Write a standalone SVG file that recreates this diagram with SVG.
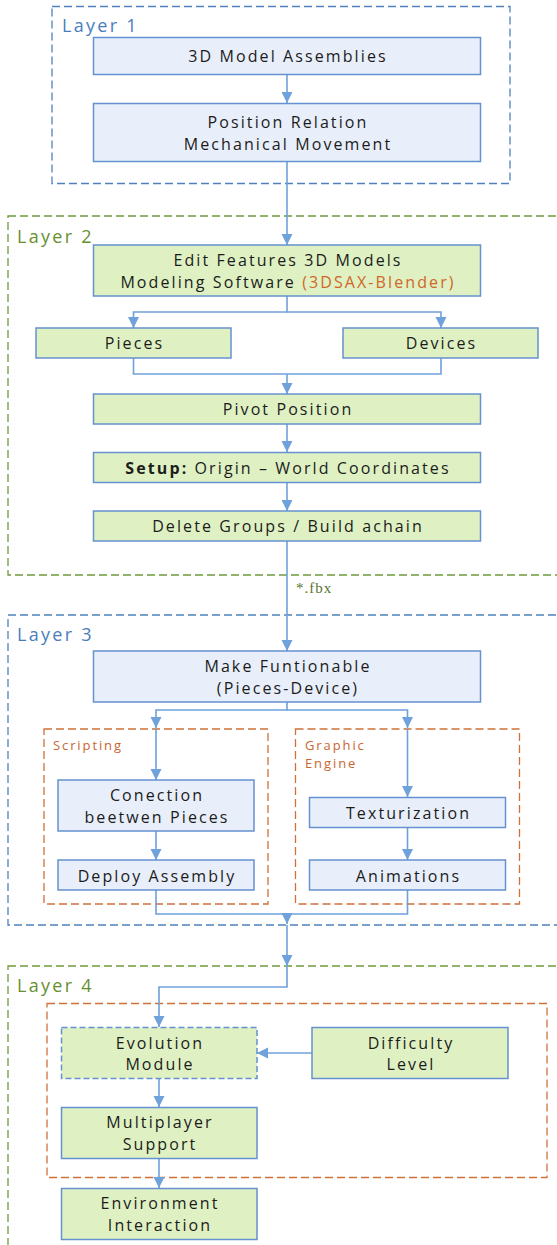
<svg xmlns="http://www.w3.org/2000/svg" width="557" height="1245" viewBox="0 0 557 1245">
<style>
.bg{fill:#ffffff}
.lay{fill:none;stroke-width:1.3;stroke-dasharray:8 4}
.lb{stroke:#4F81BD}
.lg{stroke:#6F9A3B}
.lo{fill:none;stroke:#D0703A;stroke-width:1.3;stroke-dasharray:8 4}
.nb{fill:#E8EFFA;stroke:#6591D0;stroke-width:1.5}
.ng{fill:#DFF1C3;stroke:#6591D0;stroke-width:1.5}
.ngd{fill:#DFF1C3;stroke:#6591D0;stroke-width:1.5;stroke-dasharray:6 3}
.t{font-family:"Open Sans",sans-serif;font-size:16px;letter-spacing:2.1px;fill:#1c1c1c;text-anchor:middle}
.lt{font-family:"Open Sans",sans-serif;font-size:18px;letter-spacing:2.3px}
.ltb{fill:#4A7EBB}
.ltg{fill:#66902F}
.st{font-family:"Open Sans",sans-serif;font-size:13px;letter-spacing:1.9px;fill:#C9662F}
.c{fill:none;stroke:#6FA1DA;stroke-width:1.6}
</style>
<defs>
<marker id="ah" markerUnits="userSpaceOnUse" markerWidth="12" markerHeight="12" refX="11" refY="6" orient="auto">
<path d="M0,0.5 L11,6 L0,11.5 z" fill="#6FA1DA"/>
</marker>
</defs>
<rect class="bg" x="0" y="0" width="557" height="1245"/>

<g id="layer1">
<rect class="lay lb" x="52" y="6.5" width="458" height="177"/>
<text class="lt ltb" x="62" y="32">Layer 1</text>
</g>
<g id="layer2">
<rect class="lay lg" x="8" y="216" width="560" height="359"/>
<text class="lt ltg" x="17" y="243">Layer 2</text>
</g>
<g id="layer3">
<rect class="lay lb" x="8" y="615" width="560" height="310"/>
<text class="lt ltb" x="17" y="641">Layer 3</text>
</g>
<g id="scripting">
<rect class="lo" x="44" y="729" width="224" height="175"/>
<text class="st" x="53" y="750">Scripting</text>
</g>
<g id="graphic-engine">
<rect class="lo" x="295.5" y="729" width="224" height="175"/>
<text class="st" x="305" y="750">Graphic</text>
<text class="st" x="305" y="768">Engine</text>
</g>
<g id="layer4">
<rect class="lay lg" x="8" y="966" width="560" height="300"/>
<text class="lt ltg" x="17" y="992">Layer 4</text>
</g>
<g id="layer4-inner">
<rect class="lo" x="47" y="1003.5" width="500" height="174"/>
</g>

<g id="connectors">
<path class="c" d="M287,74 V103" marker-end="url(#ah)"/>
<path class="c" d="M287,162 V245" marker-end="url(#ah)"/>
<path class="c" d="M287,296 V312 H133.5 V328" marker-end="url(#ah)"/>
<path class="c" d="M287,312 H441 V328" marker-end="url(#ah)"/>
<path class="c" d="M133.5,358 V374 H441 V358"/>
<path class="c" d="M287,374 V394" marker-end="url(#ah)"/>
<path class="c" d="M287,424 V452" marker-end="url(#ah)"/>
<path class="c" d="M287,482 V511" marker-end="url(#ah)"/>
<path class="c" d="M287,541 V651" marker-end="url(#ah)"/>
<path class="c" d="M287,702 V710 H156 V728" marker-end="url(#ah)"/>
<path class="c" d="M287,710 H407.5 V728" marker-end="url(#ah)"/>
<path class="c" d="M156,729 V780" marker-end="url(#ah)"/>
<path class="c" d="M407.5,729 V797" marker-end="url(#ah)"/>
<path class="c" d="M156,831 V860" marker-end="url(#ah)"/>
<path class="c" d="M407.5,827 V860" marker-end="url(#ah)"/>
<path class="c" d="M156,890 V914 H407.5 V890"/>
<path class="c" d="M287,914 V924" marker-end="url(#ah)"/>
<path class="c" d="M287,925 V966" marker-end="url(#ah)"/>
<path class="c" d="M287,966 V987 H159 V1027" marker-end="url(#ah)"/>
<path class="c" d="M312,1053 H257" marker-end="url(#ah)"/>
<path class="c" d="M159,1078 V1107" marker-end="url(#ah)"/>
<path class="c" d="M159,1158 V1188" marker-end="url(#ah)"/>
<text x="296" y="593" style="font-family:'Liberation Serif',serif;font-size:15px;letter-spacing:1px;fill:#55752F">*.fbx</text>
</g>

<g id="n-assemblies">
<rect class="nb" x="93.5" y="37.5" width="387" height="37"/>
<text class="t" x="288" y="62">3D Model Assemblies</text>
</g>
<g id="n-position">
<rect class="nb" x="93.5" y="103.5" width="387" height="58"/>
<text class="t" x="288" y="128">Position Relation</text>
<text class="t" x="288" y="150">Mechanical Movement</text>
</g>
<g id="n-edit">
<rect class="ng" x="93.5" y="245" width="387" height="51"/>
<text class="t" x="288" y="266">Edit Features 3D Models</text>
<text class="t" x="288" y="287.5">Modeling Software <tspan fill="#D0662A">(3DSAX-Blender)</tspan></text>
</g>
<g id="n-pieces">
<rect class="ng" x="36" y="328" width="195" height="30"/>
<text class="t" x="134.5" y="349">Pieces</text>
</g>
<g id="n-devices">
<rect class="ng" x="343" y="328" width="195" height="30"/>
<text class="t" x="441.5" y="349">Devices</text>
</g>
<g id="n-pivot">
<rect class="ng" x="93.5" y="394" width="387" height="30"/>
<text class="t" x="288" y="415">Pivot Position</text>
</g>
<g id="n-setup">
<rect class="ng" x="93.5" y="452.5" width="387" height="30"/>
<text class="t" x="288" y="473.5"><tspan font-weight="bold">Setup:</tspan> Origin – World Coordinates</text>
</g>
<g id="n-delete">
<rect class="ng" x="93.5" y="511" width="387" height="30"/>
<text class="t" x="288" y="532">Delete Groups / Build achain</text>
</g>
<g id="n-make">
<rect class="nb" x="93.5" y="651" width="387" height="51"/>
<text class="t" x="288" y="672">Make Funtionable</text>
<text class="t" x="288" y="694">(Pieces-Device)</text>
</g>
<g id="n-conection">
<rect class="nb" x="58" y="780" width="196" height="51"/>
<text class="t" x="157" y="801">Conection</text>
<text class="t" x="157" y="823">beetwen Pieces</text>
</g>
<g id="n-deploy">
<rect class="nb" x="58" y="860" width="196" height="30"/>
<text class="t" x="157" y="882">Deploy Assembly</text>
</g>
<g id="n-texturization">
<rect class="nb" x="309.5" y="797.5" width="196" height="30"/>
<text class="t" x="408.5" y="818.5">Texturization</text>
</g>
<g id="n-animations">
<rect class="nb" x="309.5" y="860" width="196" height="30"/>
<text class="t" x="408.5" y="882">Animations</text>
</g>
<g id="n-evolution">
<rect class="ngd" x="61.5" y="1027.5" width="195.5" height="51"/>
<text class="t" x="160" y="1048.5">Evolution</text>
<text class="t" x="160" y="1070">Module</text>
</g>
<g id="n-difficulty">
<rect class="ng" x="312" y="1027.5" width="196" height="51"/>
<text class="t" x="411" y="1048.5">Difficulty</text>
<text class="t" x="411" y="1070">Level</text>
</g>
<g id="n-multiplayer">
<rect class="ng" x="61.5" y="1107.5" width="195.5" height="51"/>
<text class="t" x="160" y="1127.5">Multiplayer</text>
<text class="t" x="160" y="1150">Support</text>
</g>
<g id="n-environment">
<rect class="ng" x="61.5" y="1188.5" width="195.5" height="51"/>
<text class="t" x="160" y="1208.5">Environment</text>
<text class="t" x="160" y="1231">Interaction</text>
</g>
</svg>
